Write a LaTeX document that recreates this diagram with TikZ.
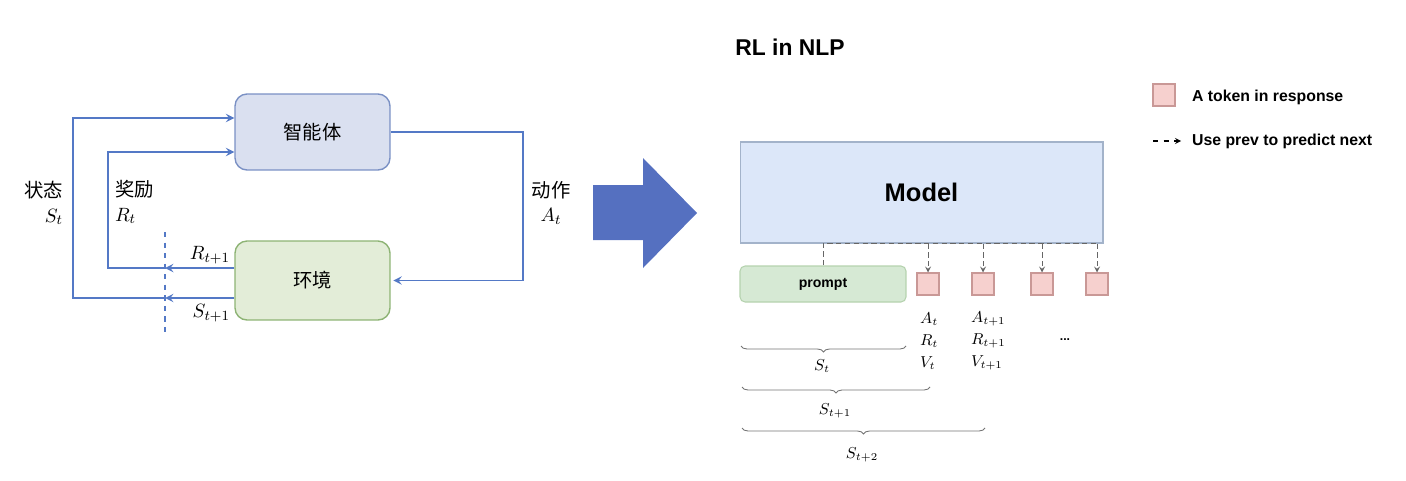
\documentclass[tikz,border=0pt]{standalone}
\usepackage{fontspec}
\setsansfont{Liberation Sans}
\newfontfamily\cjk{Noto Sans CJK SC}
\usetikzlibrary{arrows}
\usetikzlibrary{positioning}
\usetikzlibrary{decorations.pathreplacing}

\definecolor{flowblue}{HTML}{5479C6}
\definecolor{bigblue}{HTML}{5570C0}
\definecolor{agentfill}{HTML}{DAE0F0}
\definecolor{agentline}{HTML}{7A90C4}
\definecolor{envfill}{HTML}{E3EDD8}
\definecolor{envline}{HTML}{8DB374}
\definecolor{modelfill}{HTML}{DCE7F9}
\definecolor{modelline}{HTML}{A3B3CA}
\definecolor{promptfill}{HTML}{D6E9D4}
\definecolor{promptline}{HTML}{B5D2AE}
\definecolor{tokfill}{HTML}{F6D0CE}
\definecolor{tokline}{HTML}{C99896}

\tikzset{
  roundbox/.style={draw, rounded corners=0.24cm, line width=0.8pt,
    font=\cjk\fontsize{11}{13}\selectfont},
  agentbox/.style={roundbox, fill=agentfill, draw=agentline,
    minimum width=3.1cm, minimum height=1.52cm},
  envbox/.style={roundbox, fill=envfill, draw=envline,
    minimum width=3.1cm, minimum height=1.58cm},
  flow/.style={draw=flowblue, line width=1.1pt, ->, >=stealth},
  cutline/.style={draw=flowblue, line width=0.9pt, dashed},
  lbl/.style={inner sep=1pt, font=\cjk\fontsize{11}{14}\selectfont},
  title/.style={font=\sffamily\bfseries\fontsize{13}{15}\selectfont},
  modelbox/.style={draw=modelline, fill=modelfill, line width=0.6pt,
    minimum width=7.26cm, minimum height=2.02cm,
    font=\sffamily\bfseries\fontsize{14.5}{16}\selectfont},
  promptbox/.style={draw=promptline, fill=promptfill, line width=0.6pt,
    rounded corners=0.1cm, minimum width=3.32cm, minimum height=0.72cm,
    font=\sffamily\bfseries\fontsize{8}{10}\selectfont},
  tokbox/.style={draw=tokline, fill=tokfill, line width=0.6pt,
    minimum size=0.44cm, inner sep=0pt},
  predline/.style={draw=black!60, densely dashed, line width=0.5pt, >=stealth},
  mathlbl/.style={inner sep=1pt, align=left, font=\fontsize{9}{12.5}\selectfont},
  bracedec/.style={draw=black!55, line width=0.5pt,
    decorate, decoration={brace, mirror, amplitude=0.12cm}},
  keytext/.style={inner sep=1pt, font=\sffamily\bfseries\fontsize{9}{11}\selectfont}
}

\begin{document}
\begin{tikzpicture}[x=0.02cm, y=-0.02cm]
  \useasboundingbox (0,0) rectangle (1406,480);

  \node[agentbox] (agent) at (312.5,132) {智能体};
  \node[envbox] (env) at (312.5,280.5) {环境};
  \coordinate (cuttop) at (165,232);
  \coordinate (cutbot) at (165,336);
  \coordinate (outer) at (73,0);
  \coordinate (inner) at (108,0);
  \coordinate (act) at (523,0);
  \coordinate (envS) at ([yshift=-0.35cm]env.west);
  \coordinate (envR) at ([yshift=0.25cm]env.west);
  \coordinate (agS) at ([yshift=0.28cm]agent.west);
  \coordinate (agR) at ([yshift=-0.4cm]agent.west);

  \draw[cutline] (cuttop) -- (cutbot);
  \draw[flow] (envS) -- (envS -| cuttop);
  \draw[flow] (envS -| cuttop) -- (envS -| outer) |- (agS);
  \draw[flow] (envR) -- (envR -| cuttop);
  \draw[flow] (envR -| cuttop) -- (envR -| inner) |- (agR);
  \draw[flow, shorten >=1.5pt] (agent.east) -- (agent.east -| act) |- (env.east);

  \node[lbl, anchor=east, align=right] (lblS) at (65,203) {状态\\$S_t$};
  \node[lbl, anchor=west, align=left] (lblR) at (113,202) {奖励\\$R_t$};
  \node[lbl, align=center] (lblA) at (551,203) {动作\\$A_t$};
  \node[lbl, anchor=east] (lblR1) at (232,255) {$R_{t+1}$};
  \node[lbl, anchor=east] (lblS1) at (232,313) {$S_{t+1}$};

  \fill[bigblue] (593,185) -- (643,185) -- (643,158) -- (697,213)
    -- (643,268) -- (643,240) -- (593,240) -- cycle;

  \node[title] (head) at (790,47) {RL in NLP};
  \node[modelbox] (model) at (921.5,192.5) {Model};
  \node[promptbox] (prompt) at (823,284) {prompt};
  \node[tokbox] (tok1) at (928,284) {};
  \node[tokbox] (tok2) at (983,284) {};
  \node[tokbox] (tok3) at (1042,284) {};
  \node[tokbox] (tok4) at (1097,284) {};

  \draw[predline] (prompt.north) -- (prompt.north |- model.south) -- (model.south -| tok4);
  \foreach \t in {tok1,tok2,tok3,tok4}
    \draw[predline,->] (model.south -| \t) -- (\t.north);

  \node[mathlbl, anchor=west] (col1) at (918,341) {$A_t$\\$R_t$\\$V_t$};
  \node[mathlbl, anchor=west] (col2) at (969,341) {$A_{t+1}$\\$R_{t+1}$\\$V_{t+1}$};
  \node[keytext, font=\sffamily\bfseries\fontsize{7}{9}\selectfont] (more) at (1065,340) {...};

  \draw[bracedec] (741,346) -- (906,346);
  \node[mathlbl] (brS1) at (822,366) {$S_t$};
  \draw[bracedec] (742,387) -- (930,387);
  \node[mathlbl] (brS2) at (835,411) {$S_{t+1}$};
  \draw[bracedec] (742,428) -- (985,428);
  \node[mathlbl] (brS3) at (862,455) {$S_{t+2}$};

  \node[tokbox] (keytok) at (1164,95) {};
  \node[keytext, anchor=west] (keytoktxt) at (1190,97) {A token in response};
  \coordinate (keyarr) at (1153,141);
  \node[keytext, anchor=west] (keyarrtxt) at (1190,141) {Use prev to predict next};
  \draw[draw=black, dashed, line width=0.6pt, ->, >=stealth, shorten >=5pt] (keyarr) -- (keyarrtxt.west);
\end{tikzpicture}
\end{document}
